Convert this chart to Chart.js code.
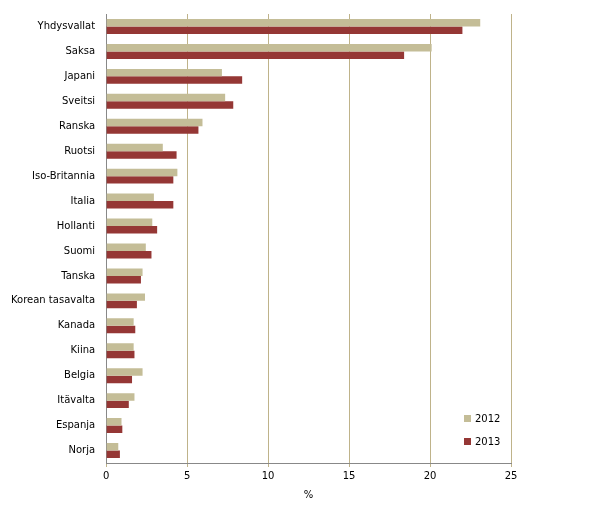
<!DOCTYPE html><html><head><meta charset="utf-8">
<script src="https://cdn.jsdelivr.net/npm/chart.js@4/dist/chart.umd.min.js"></script>
<style>body{margin:0;background:#fff}#w{width:591px;height:517px}</style></head><body><div id="w"><canvas id="c"></canvas></div>
<script>
const categories=["Yhdysvallat","Saksa","Japani","Sveitsi","Ranska","Ruotsi","Iso-Britannia","Italia","Hollanti","Suomi","Tanska","Korean tasavalta","Kanada","Kiina","Belgia","Itävalta","Espanja","Norja"];
const values2012=[23.1,20.1,7.15,7.35,5.95,3.5,4.4,2.95,2.85,2.45,2.25,2.4,1.7,1.7,2.25,1.75,0.95,0.75];
const values2013=[22.0,18.4,8.4,7.85,5.7,4.35,4.15,4.15,3.15,2.8,2.15,1.9,1.8,1.75,1.6,1.4,1.0,0.85];
const xTicks=[0,5,10,15,20,25];
const font={family:"Verdana, 'DejaVu Sans', sans-serif",size:10};
const legendPlugin={id:'lg',afterDraw(ch){const c=ch.ctx,a=ch.chartArea;c.save();c.font="10px 'DejaVu Sans'";c.textBaseline='middle';
ch.data.datasets.forEach((d,i)=>{const y=a.bottom-45+i*23;c.fillStyle=d.backgroundColor;c.fillRect(a.right-47,y-3,7,7);c.fillStyle='#000';c.fillText(d.label,a.right-36,y+1);});c.restore();}};
new Chart(document.getElementById('c'),{type:'bar',data:{labels:categories,datasets:[
{label:'2012',data:values2012,backgroundColor:'#C4BD97'},
{label:'2013',data:values2013,backgroundColor:'#953735'}]},
options:{indexAxis:'y',responsive:true,maintainAspectRatio:false,animation:false,
layout:{padding:{top:14,right:80,bottom:12,left:8}},
datasets:{bar:{categoryPercentage:0.6,barPercentage:1}},
plugins:{legend:{display:false},tooltip:{enabled:false}},
scales:{x:{min:0,max:25,afterBuildTicks(s){s.ticks=xTicks.map(v=>({value:v}));},
grid:{color:'#BFB38A',drawTicks:true,tickLength:4},border:{color:'#888'},
ticks:{color:'#000',font},title:{display:true,text:'%',color:'#000',font}},
y:{grid:{display:false},border:{color:'#888'},ticks:{color:'#000',font}}}},
plugins:[legendPlugin]});
</script></body></html>
